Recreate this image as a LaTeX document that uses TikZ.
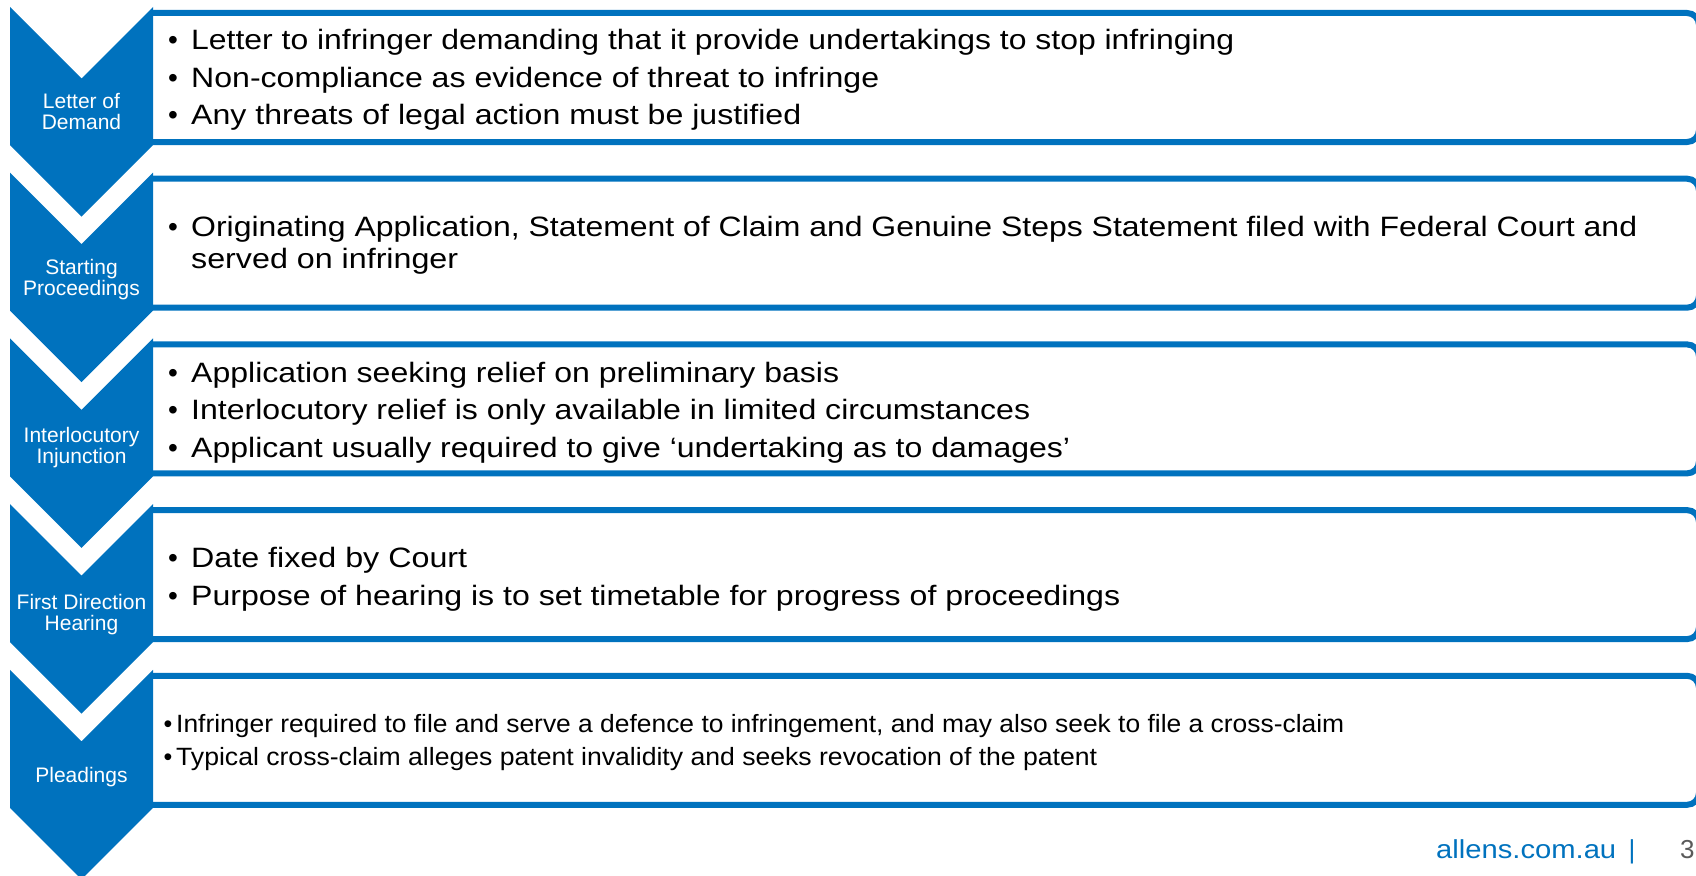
\documentclass[tikz,border=0pt]{standalone}
\usepackage{fontspec}
\setmainfont{Liberation Sans}
\usepackage{graphicx}
\definecolor{ablue}{RGB}{0,114,190}
\definecolor{agrey}{RGB}{90,90,90}
\newcommand\fitto[2]{\resizebox{#1pt}{\height}{#2}}
\begin{document}
\begin{tikzpicture}[x=1pt,y=-1pt,
  chev/.style={fill=ablue},
  lbl/.style={text=white,font=\fontsize{21}{21}\selectfont,inner sep=0,anchor=base},
  txt/.style={font=\fontsize{28}{28}\selectfont,inner sep=0,anchor=base west},
  txts/.style={font=\fontsize{25}{25}\selectfont,inner sep=0,anchor=base west},
  boxline/.style={draw=ablue,line width=6pt,rounded corners=12pt}]
\useasboundingbox (0,0) rectangle (1696,875);
% boxes
\foreach \t in {13,178.7,344.4,510.1,675.8}{
  \draw[boxline] (153,\t) -- (1699,\t) -- (1699,\t+129) -- (153,\t+129);
}
% chevrons
\foreach \t in {7,172.7,338.4,504.1,669.8}{
  \fill[chev] (10,\t) -- (81.5,\t+71.5) -- (153,\t) -- (153,\t+138) -- (81.5,\t+209.5) -- (10,\t+138) -- cycle;
}
% chevron labels
\node[lbl] (l1a) at (81.5,108) {Letter of};
\node[lbl] (l1b) at (81.5,129) {Demand};
\node[lbl] (l2a) at (81.5,274) {Starting};
\node[lbl] (l2b) at (81.5,295) {Proceedings};
\node[lbl] (l3a) at (81.5,442) {Interlocutory};
\node[lbl] (l3b) at (81.5,463) {Injunction};
\node[lbl] (l4a) at (81.5,609) {First Direction};
\node[lbl] (l4b) at (81.5,630) {Hearing};
\node[lbl] (l5a) at (81.5,782) {Pleadings};
% box 1
\node[txt] (b1u1) at (168,50) {•};
\node[txt] (b1t1) at (191,50) {\fitto{1043}{Letter to infringer demanding that it provide undertakings to stop infringing}};
\node[txt] (b1u2) at (168,87) {•};
\node[txt] (b1t2) at (191,87) {\fitto{688}{Non-compliance as evidence of threat to infringe}};
\node[txt] (b1u3) at (168,124) {•};
\node[txt] (b1t3) at (191,124) {\fitto{610}{Any threats of legal action must be justified}};
% box 2
\node[txt] (b2u1) at (168,236) {•};
\node[txt] (b2t1) at (191,236) {\fitto{1446}{Originating Application, Statement of Claim and Genuine Steps Statement filed with Federal Court and}};
\node[txt] (b2t2) at (191,268) {\fitto{267}{served on infringer}};
% box 3
\node[txt] (b3u1) at (168,382) {•};
\node[txt] (b3t1) at (191,382) {\fitto{648}{Application seeking relief on preliminary basis}};
\node[txt] (b3u2) at (168,419) {•};
\node[txt] (b3t2) at (191,419) {\fitto{839}{Interlocutory relief is only available in limited circumstances}};
\node[txt] (b3u3) at (168,457) {•};
\node[txt] (b3t3) at (191,457) {\fitto{879}{Applicant usually required to give ‘undertaking as to damages’}};
% box 4
\node[txt] (b4u1) at (168,567) {•};
\node[txt] (b4t1) at (191,567) {\fitto{276}{Date fixed by Court}};
\node[txt] (b4u2) at (168,605) {•};
\node[txt] (b4t2) at (191,605) {\fitto{929}{Purpose of hearing is to set timetable for progress of proceedings}};
% box 5
\node[txts] (b5u1) at (163.5,732) {•};
\node[txts] (b5t1) at (176,732) {\fitto{1168}{Infringer required to file and serve a defence to infringement, and may also seek to file a cross-claim}};
\node[txts] (b5u2) at (163.5,765) {•};
\node[txts] (b5t2) at (176,765) {\fitto{921}{Typical cross-claim alleges patent invalidity and seeks revocation of the patent}};
% footer
\node[txts,text=ablue,font=\fontsize{26}{26}\selectfont] (web) at (1436,858) {\fitto{180}{allens.com.au}};
\node[inner sep=0,anchor=base,text=ablue,font=\fontsize{26}{26}\selectfont] (bar) at (1632,858) {|};
\node[inner sep=0,anchor=base west,text=agrey,font=\fontsize{26}{26}\selectfont] (pg) at (1680,858) {3};
\end{tikzpicture}
\end{document}
